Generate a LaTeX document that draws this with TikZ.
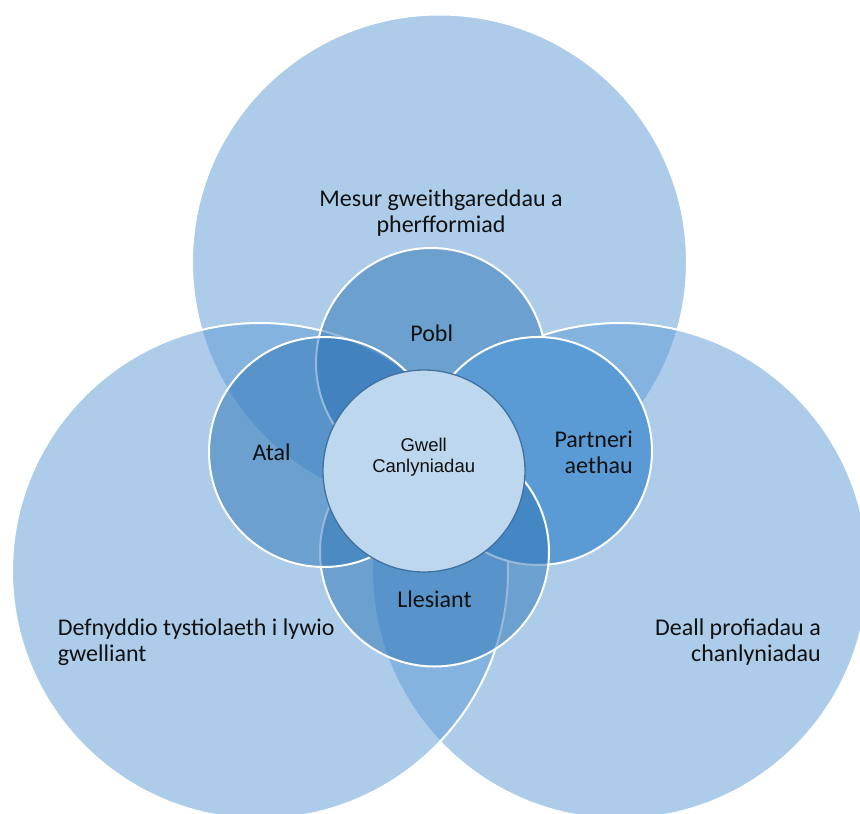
\documentclass[tikz,border=0pt]{standalone}
\usepackage{fontspec}
\setmainfont{Carlito}
\newfontfamily\centerfont{Liberation Sans}
\definecolor{bigblue}{HTML}{5B9BD5}
\definecolor{smallblue}{HTML}{2E75B6}
\definecolor{partnerblue}{HTML}{5B9BD5}
\definecolor{centerfill}{HTML}{BDD7EE}
\definecolor{centerline}{HTML}{41719C}
\definecolor{labeltext}{HTML}{111111}
\tikzset{
  bigcircle/.style={fill=bigblue, fill opacity=0.5, draw=white, draw opacity=1, line width=2pt},
  smallcircle/.style={fill=smallblue, fill opacity=0.5, draw=white, draw opacity=1, line width=2pt},
  solidcircle/.style={fill=partnerblue, draw=white, line width=2pt},
  corecircle/.style={fill=centerfill, draw=centerline, line width=1.3pt},
  lbl/.style={inner sep=0pt, text=labeltext, font=\fontsize{24}{25.8}\selectfont},
  corelbl/.style={inner sep=0pt, text=labeltext, font=\centerfont\fontsize{18.5}{21.7}\selectfont}
}
\begin{document}
\begin{tikzpicture}[x=1pt, y=-1pt]
\useasboundingbox (0,0) rectangle (860,814);
\fill[white] (0,0) rectangle (860,814);
\clip (0,0) rectangle (860,814);
% big circles
\path[bigcircle] (439.5,262) circle[radius=247.5pt];
\path[bigcircle] (620,571) circle[radius=248pt];
\path[bigcircle] (260,571) circle[radius=248pt];
% small circles
\path[smallcircle] (431,363) circle[radius=115pt];
\path[solidcircle] (538,451) circle[radius=114pt];
\path[smallcircle] (434.5,552) circle[radius=114.5pt];
\path[smallcircle] (324,452) circle[radius=115pt];
\path[corecircle] (424,471) circle[radius=101pt];
% labels (base anchor = baseline of the last line)
\node[lbl, anchor=base, align=center] (mesur) at (441,232) {Mesur gweithgareddau a\\pherfformiad};
\node[lbl, anchor=base west, align=left] (defnyddio) at (57.7,661) {Defnyddio tystiolaeth i lywio\\gwelliant};
\node[lbl, anchor=base east, align=right] (deall) at (821,661) {Deall profiadau a\\chanlyniadau};
\node[lbl, anchor=base] (pobl) at (431.7,341) {Pobl};
\node[lbl, anchor=base] (atal) at (271.7,460.7) {Atal};
\node[lbl, anchor=base east, align=right] (partner) at (633,473) {Partneri\\aethau};
\node[lbl, anchor=base] (llesiant) at (434.5,607.3) {Llesiant};
\node[corelbl, anchor=base, align=center] (gwell) at (423.7,472.7) {Gwell\\Canlyniadau};
\end{tikzpicture}
\end{document}
